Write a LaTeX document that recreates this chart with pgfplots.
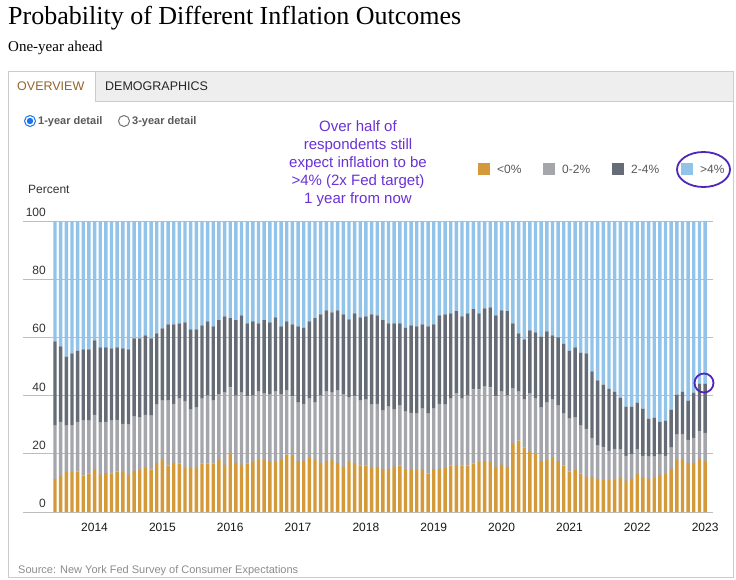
\documentclass[border=0pt]{standalone}
\usepackage{pgfplots}
\pgfplotsset{compat=1.18}
\usepackage{pgfplotstable}
\usepackage{fontspec}
\setmainfont{Liberation Sans}
\newfontfamily\seriffont{Liberation Serif}
\definecolor{cneg}{HTML}{D49A3A}
\definecolor{clow}{HTML}{A4A6AB}
\definecolor{cmid}{HTML}{656C75}
\definecolor{chigh}{HTML}{92C4EA}
\definecolor{annot}{HTML}{6A32D6}
\definecolor{ring}{HTML}{5028B8}
\definecolor{gridc}{HTML}{BDBDBD}
\definecolor{panelb}{HTML}{CCCCCC}
\definecolor{tabbg}{HTML}{EEEEEE}
\definecolor{tabtxt}{HTML}{94642A}
\definecolor{radioblue}{HTML}{1A73E8}

\pgfplotstableread{
m neg low mid high
1 11.3 18.4 28.9 41.4
2 12.4 18.6 25.9 43.1
3 13.8 15.9 23.7 46.6
4 13.8 15.9 24.8 45.5
5 14.0 17.0 24.5 44.5
6 12.5 18.9 24.5 44.1
7 13.2 18.2 24.5 44.1
8 14.8 18.6 25.6 41.0
9 12.8 17.9 25.9 43.4
10 13.4 17.6 25.6 43.4
11 13.2 18.2 24.8 43.8
12 13.9 17.8 24.9 43.4
13 13.8 16.5 25.9 43.8
14 12.8 17.2 25.9 44.1
15 14.1 18.7 26.9 40.3
16 14.5 17.9 27.3 40.3
17 15.2 18.2 27.3 39.3
18 14.6 18.5 26.6 40.3
19 16.9 20.0 24.5 38.6
20 17.9 20.4 24.8 36.9
21 15.9 22.4 26.2 35.5
22 16.9 20.3 27.3 35.5
23 16.6 22.4 25.8 35.2
24 15.2 22.7 27.3 34.8
25 15.2 20.0 27.6 37.2
26 15.2 20.7 26.9 37.2
27 16.6 22.4 25.1 35.9
28 16.6 23.4 25.5 34.5
29 16.6 21.7 25.5 36.2
30 17.9 22.4 25.6 34.1
31 16.2 24.8 26.2 32.8
32 20.0 22.8 23.8 33.4
33 16.9 23.1 25.9 34.1
34 16.2 24.8 26.6 32.4
35 16.6 23.1 25.1 35.2
36 17.2 22.8 25.5 34.5
37 17.9 23.5 23.4 35.2
38 17.9 22.8 25.2 34.1
39 17.5 22.8 24.9 34.8
40 17.5 23.9 25.5 33.1
41 17.9 22.4 23.5 36.2
42 19.7 22.0 23.8 34.5
43 19.3 20.4 24.8 35.5
44 17.5 20.1 26.2 36.2
45 17.5 19.7 26.2 36.6
46 18.6 20.4 26.5 34.5
47 17.9 19.7 29.0 33.4
48 16.9 23.1 27.9 32.1
49 17.5 23.9 27.9 30.7
50 17.9 23.1 27.6 31.4
51 16.8 24.9 27.6 30.7
52 15.5 24.8 27.6 32.1
53 17.2 22.1 26.9 33.8
54 16.8 22.9 28.6 31.7
55 16.0 22.3 28.6 33.1
56 15.9 22.7 28.6 32.8
57 15.2 21.7 31.0 32.1
58 15.5 21.7 30.4 32.4
59 14.7 20.1 31.1 34.1
60 14.7 21.5 28.6 35.2
61 15.5 19.7 29.6 35.2
62 15.9 20.7 28.2 35.2
63 14.5 20.0 28.9 36.6
64 14.5 19.6 30.0 35.9
65 14.5 19.3 30.0 36.2
66 14.7 20.8 29.0 35.5
67 13.3 20.5 30.0 36.2
68 14.7 20.8 29.0 35.5
69 14.7 22.5 30.4 32.4
70 15.2 21.7 31.0 32.1
71 15.9 23.1 29.3 31.7
72 16.1 24.6 28.3 31.0
73 15.9 23.1 28.2 32.8
74 15.9 24.1 28.3 31.7
75 16.6 25.5 27.6 30.3
76 17.2 24.9 26.2 31.7
77 17.5 25.6 26.9 30.0
78 17.2 25.6 27.5 29.7
79 15.5 24.2 27.9 32.4
80 16.2 25.2 27.9 30.7
81 15.5 24.5 29.0 31.0
82 23.4 19.0 22.4 35.2
83 24.5 16.9 20.0 38.6
84 22.1 16.5 20.7 40.7
85 20.7 20.0 21.7 37.6
86 20.0 19.0 22.7 38.3
87 17.5 18.4 24.4 39.7
88 17.9 19.7 24.5 37.9
89 18.6 20.0 22.1 39.3
90 17.5 19.1 23.4 40.0
91 15.9 17.9 24.1 42.1
92 14.0 18.1 23.4 44.5
93 14.5 17.9 24.2 43.4
94 13.3 16.4 25.1 45.2
95 12.1 16.5 25.9 45.5
96 12.1 13.4 22.8 51.7
97 11.4 11.4 22.4 54.8
98 11.0 11.4 21.4 56.2
99 11.0 10.0 21.4 57.6
100 11.0 10.7 19.7 58.6
101 11.7 9.7 17.9 60.7
102 10.7 8.6 16.9 63.8
103 11.4 8.6 16.2 63.8
104 13.1 8.3 16.2 62.4
105 11.7 7.6 16.2 64.5
106 11.4 7.6 13.1 67.9
107 11.7 7.3 13.4 67.6
108 12.8 6.9 11.3 69.0
109 13.1 6.2 12.1 68.6
110 14.8 7.3 13.1 64.8
111 17.9 8.7 13.7 59.7
112 17.9 8.7 14.8 58.6
113 16.9 7.9 13.5 61.7
114 16.9 8.6 15.5 59.0
115 18.3 9.6 16.2 55.9
116 17.6 9.6 16.9 55.9
}\data

\begin{document}
\begin{tikzpicture}[x=1bp,y=1bp]
\useasboundingbox (0,0) rectangle (736,-580);
\fill[white] (0,0) rectangle (736,-580);
% titles
\node[anchor=base west, inner sep=0] at (8,-25) {\seriffont\fontsize{26bp}{30bp}\selectfont Probability of Different Inflation Outcomes};
\node[anchor=base west, inner sep=0] at (8,-52) {\seriffont\fontsize{15bp}{17bp}\selectfont One-year ahead};
% panel
\fill[tabbg] (8.5,-71.5) rectangle (733.5,-101.5);
\fill[white] (8.5,-71.5) rectangle (95,-102);
\draw[panelb, line width=1bp] (95,-71.5) -- (95,-101.5) -- (733.5,-101.5);
\draw[panelb, line width=1bp] (8.5,-71.5) rectangle (733.5,-577.5);
\node[anchor=base west, inner sep=0, text=tabtxt] at (17,-90.5) {\fontsize{12.5bp}{14bp}\selectfont OVERVIEW};
\node[anchor=base west, inner sep=0, text=black!85] at (105,-90.5) {\fontsize{12.5bp}{14bp}\selectfont DEMOGRAPHICS};
% radio buttons
\draw[radioblue, line width=1bp] (30,-121) circle (5.5);
\fill[radioblue] (30,-121) circle (3.2);
\node[anchor=base west, inner sep=0, text=black!65] at (38,-125) {\fontsize{11bp}{13bp}\selectfont\bfseries 1-year detail};
\draw[black!55, line width=1bp] (124,-121) circle (5.5);
\node[anchor=base west, inner sep=0, text=black!65] at (132,-125) {\fontsize{11bp}{13bp}\selectfont\bfseries 3-year detail};
% annotation
\node[align=center, text=annot, inner sep=0, font=\fontsize{15bp}{18bp}\selectfont] at (358,-164) {Over half of\\respondents still\\expect inflation to be\\>4\% (2x Fed target)\\1 year from now};
% legend
\fill[cneg] (478,-163) rectangle (490,-175);
\node[anchor=base west, inner sep=0, text=black!65] at (497,-173.5) {\fontsize{12bp}{14bp}\selectfont <0\%};
\fill[clow] (543,-163) rectangle (555,-175);
\node[anchor=base west, inner sep=0, text=black!65] at (562,-173.5) {\fontsize{12bp}{14bp}\selectfont 0-2\%};
\fill[cmid] (612,-163) rectangle (624,-175);
\node[anchor=base west, inner sep=0, text=black!65] at (631,-173.5) {\fontsize{12bp}{14bp}\selectfont 2-4\%};
\fill[chigh] (681,-163) rectangle (693,-175);
\node[anchor=base west, inner sep=0, text=black!65] at (700,-173.5) {\fontsize{12bp}{14bp}\selectfont >4\%};
% y label
\node[anchor=base west, inner sep=0, text=black!80] at (28,-193.5) {\fontsize{12bp}{14bp}\selectfont Percent};
% axis
\begin{axis}[
  at={(23bp,-512bp)}, anchor=south west,
  scale only axis, width=690bp, height=291bp,
  xmin=-4.66, xmax=117.4, ymin=0, ymax=100,
  ybar stacked, bar width=3.4bp,
  axis line style={draw=none},
  major tick length=0pt,
  ytick={0,20,40,60,80,100},
  ymajorgrids, grid style={draw=gridc, line width=1bp},
  xtick={8,20,32,44,56,68,80,92,104,116},
  xticklabels={2014,2015,2016,2017,2018,2019,2020,2021,2022,2023},
  /pgf/number format/assume math mode=true,
  tick label style={font=\fontsize{12bp}{14bp}\selectfont},
  yticklabel style={anchor=base east, inner sep=0pt, xshift=23bp, yshift=4.5bp, text=black!80},
  xticklabel style={anchor=base, inner sep=0pt, yshift=-19.3bp, text=black!90},
  clip=false,
]
\addplot[fill=cneg, draw=none] table[x=m, y=neg] {\data};
\addplot[fill=clow, draw=none] table[x=m, y=low] {\data};
\addplot[fill=cmid, draw=none] table[x=m, y=mid] {\data};
\addplot[fill=chigh, draw=none] table[x=m, y=high] {\data};
\end{axis}
% highlight rings
\draw[ring, line width=1.8bp] (703.5,-169.5) ellipse (26.5 and 17.5);
\draw[ring, line width=1.8bp] (704,-383) circle (9.5);
% source
\node[anchor=base west, inner sep=0, text=black!45] at (18,-573) {\fontsize{11bp}{13bp}\selectfont Source: New York Fed Survey of Consumer Expectations};
\end{tikzpicture}
\end{document}
